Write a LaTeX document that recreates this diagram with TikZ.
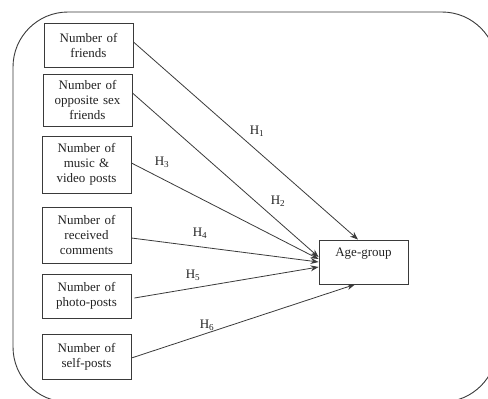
\documentclass[tikz,border=0pt]{standalone}
\usepackage{fontspec}
\setmainfont{Liberation Serif}
\usetikzlibrary{arrows.meta}
\definecolor{ln}{HTML}{3A3A3A}
\definecolor{tx}{HTML}{222222}
\begin{document}
\begin{tikzpicture}[x=1pt,y=-1pt,
  font=\fontsize{13}{15}\selectfont, text=tx,
  varbox/.style={draw=ln, line width=0.9pt, minimum width=89pt, inner sep=0pt, align=center, text width=85pt},
  conn/.style={draw=ln, line width=0.8pt, -{Stealth[length=8pt,width=6pt]}},
  hlab/.style={inner sep=1pt}]
\useasboundingbox (0,0) rectangle (488,399);
\draw[ln, line width=0.9pt, rounded corners=55pt] (13,12) rectangle (497,402);
\node[varbox, minimum height=44pt] (b1) at (88.5,45) {Number of\\friends};
\node[varbox, minimum height=52pt] (b2) at (87.5,100) {Number of\\opposite sex\\friends};
\node[varbox, minimum height=57pt] (b3) at (86.5,164.5) {Number of\\music \&\\video posts};
\node[varbox, minimum height=56pt] (b4) at (86.5,235) {Number of\\received\\comments};
\node[varbox, minimum height=44pt] (b5) at (86.5,296) {Number of\\photo-posts};
\node[varbox, minimum height=45pt] (b6) at (86.5,356.5) {Number of\\self-posts};
\node[draw=ln, line width=0.9pt, minimum width=89pt, minimum height=44pt, inner sep=0pt] (ag) at (363.5,262) {};
\node[anchor=north, inner sep=0pt] (agt) at ([yshift=-8pt]ag.north) {Age-group};
\draw[conn] ([yshift=3pt]b1.east) -- ([xshift=-5.5pt]ag.north);
\draw[conn] ([yshift=7pt]b2.east) -- ([yshift=5pt]ag.west);
\draw[conn] ([yshift=1.5pt]b3.east) -- ([yshift=3pt]ag.west);
\draw[conn] ([yshift=-3pt]b4.east) -- (ag.west);
\draw[conn] ([yshift=-2pt,xshift=3pt]b5.east) -- ([yshift=-5pt]ag.west);
\draw[conn] ([yshift=-1.5pt]b6.east) -- ([xshift=-8.5pt]ag.south);
\node[hlab] (h1) at (257,131) {H\textsubscript{1}};
\node[hlab] (h2) at (278,201) {H\textsubscript{2}};
\node[hlab] (h3) at (162,162) {H\textsubscript{3}};
\node[hlab] (h4) at (200,233) {H\textsubscript{4}};
\node[hlab] (h5) at (193,275) {H\textsubscript{5}};
\node[hlab] (h6) at (207,325) {H\textsubscript{6}};
\end{tikzpicture}
\end{document}
